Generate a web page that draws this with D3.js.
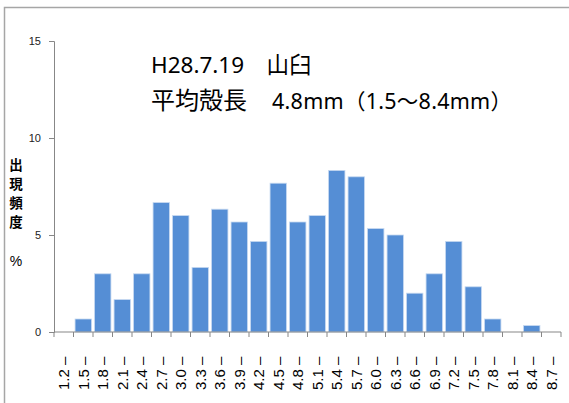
<!DOCTYPE html>
<html>
<head>
<meta charset="utf-8">
<script src="https://cdn.jsdelivr.net/npm/d3@7"></script>
<style>
  body { margin: 0; background: #fff; }
  svg { font-family: "Liberation Sans", Arial, sans-serif; }
</style>
</head>
<body>
<svg id="chart" width="569" height="403"></svg>
<script>
// shell length classes (mm) and frequency (%)
const categories = ["1.2","1.5","1.8","2.1","2.4","2.7","3.0","3.3","3.6","3.9","4.2","4.5","4.8",
                    "5.1","5.4","5.7","6.0","6.3","6.6","6.9","7.2","7.5","7.8","8.1","8.4","8.7"];
const freq = [0, 0.67, 3, 1.67, 3, 6.67, 6, 3.33, 6.33, 5.67, 4.67, 7.67, 5.67,
              6, 8.33, 8, 5.33, 5, 2, 3, 4.67, 2.33, 0.67, 0, 0.33, 0];
const yTicks = [0, 5, 10, 15];
const yLabelChars = ["出", "現", "頻", "度"];

let svg = d3.select("#chart"),
    margin = {top: 41, right: 8, bottom: 71, left: 54},
    width = 569 - margin.left - margin.right,
    height = 403 - margin.top - margin.bottom;

// frame
svg.append("rect")
    .attr("x", 4.5).attr("y", 7.5)
    .attr("width", 600).attr("height", 450)
    .attr("fill", "none").attr("stroke", "#a6a6a6").attr("stroke-width", 1.5);

let g = svg.append("g")
    .attr("transform", "translate(" + margin.left + "," + margin.top + ")");

var x = d3.scaleBand().domain(categories).range([0, width]).paddingInner(0.16).paddingOuter(0.08);
var y = d3.scaleLinear().domain([0, 15]).range([height, 0]);

// bars
g.selectAll(".bar")
    .data(categories)
    .enter().append("rect")
    .attr("class", "bar")
    .attr("x", d => x(d))
    .attr("y", (d, i) => y(freq[i]))
    .attr("width", x.bandwidth())
    .attr("height", (d, i) => height - y(freq[i]))
    .attr("fill", "#558ed5")
    .attr("stroke", "#c6d9f1")
    .attr("stroke-width", 0.8);

// y axis
var yAxis = g.append("g")
    .call(d3.axisLeft(y).tickValues(yTicks).tickSize(5).tickPadding(8));
yAxis.select(".domain").attr("stroke", "#878787");
yAxis.selectAll(".tick line").attr("stroke", "#878787");
yAxis.selectAll(".tick text").attr("font-size", 11).attr("fill", "#222");

// x axis: ticks at category boundaries
var step = width / categories.length;
var xAxis = g.append("g").attr("transform", "translate(0," + height + ")");
xAxis.append("line").attr("x1", 0).attr("x2", width).attr("stroke", "#878787");
xAxis.selectAll(".xt")
    .data(d3.range(categories.length + 1))
    .enter().append("line")
    .attr("x1", i => i * step).attr("x2", i => i * step)
    .attr("y1", 0).attr("y2", 5)
    .attr("stroke", "#878787");

xAxis.selectAll(".xlab")
    .data(categories)
    .enter().append("text")
    .attr("transform", d => "translate(" + (x(d) + x.bandwidth() / 2 + 5.5) + ",58) rotate(-90)")
    .attr("font-size", 15)
    .attr("fill", "#000")
    .text(d => d + " –");

// y axis label, stacked characters
svg.selectAll(".ylab")
    .data(yLabelChars)
    .enter().append("text")
    .attr("x", 16).attr("y", (d, i) => 170 + i * 19)
    .attr("text-anchor", "middle")
    .attr("font-family", "Noto Sans CJK JP")
    .attr("font-size", 13.5)
    .attr("font-weight", "bold")
    .text(d => d);
svg.append("text")
    .attr("x", 16).attr("y", 266)
    .attr("text-anchor", "middle")
    .attr("font-size", 14)
    .text("%");

// title
let title = svg.append("g").attr("font-family", "'Noto Sans', 'Noto Sans CJK JP', sans-serif");
title.append("text").attr("x", 151).attr("y", 73)
    .attr("font-size", 22.5)
    .text("H28.7.19\u3000山臼");
title.append("text").attr("x", 151).attr("y", 109)
    .attr("font-size", 24).text("平均殻長");
title.append("text").attr("x", 272).attr("y", 109)
    .attr("font-size", 21.5)
    .attr("textLength", 240).attr("lengthAdjust", "spacing")
    .text("4.8mm（1.5〜8.4mm）");
</script>
</body>
</html>
